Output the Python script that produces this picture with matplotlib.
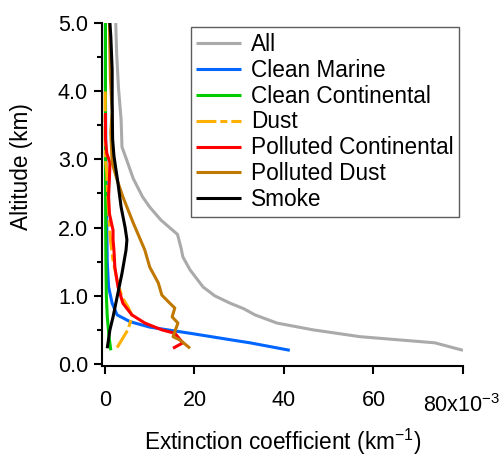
import matplotlib
matplotlib.use('Agg')
import matplotlib.pyplot as plt
from matplotlib.ticker import MultipleLocator, FixedLocator

plt.rcParams['font.family'] = ['Liberation Sans', 'DejaVu Sans']
plt.rcParams['mathtext.default'] = 'regular'

# extinction profiles (x1e-3 km^-1) vs altitude (km)
alt_all = [0.20, 0.31, 0.40, 0.50, 0.60, 0.72, 0.81, 0.89, 1.00, 1.13, 1.38, 1.57,
           1.70, 1.90, 2.11, 2.30, 2.45, 2.72, 3.00, 3.18, 3.58, 4.06, 4.56, 5.00]
ext_all = [80.0, 73.7, 57.0, 46.5, 38.4, 33.5, 31.0, 28.0, 24.5, 21.9, 19.0, 17.4,
           17.0, 16.2, 12.5, 10.0, 8.4, 6.3, 4.8, 3.8, 3.6, 3.0, 2.6, 2.4]

alt_cm = [0.20, 0.31, 0.35, 0.45, 0.54, 0.62, 0.72, 0.89, 1.13, 1.50, 2.00, 2.50, 3.00, 4.00, 5.00]
ext_cm = [41.3, 32.4, 28.5, 19.0, 10.0, 5.6, 2.7, 1.6, 0.8, 0.5, 0.4, 0.3, 0.2, 0.1, 0.1]

alt_cc = [0.20, 0.40, 0.70, 1.00, 1.50, 2.00, 3.00, 4.00, 5.00]
ext_cc = [1.3, 0.9, 0.5, 0.3, 0.2, 0.15, 0.1, 0.1, 0.1]

alt_du = [0.24, 0.37, 0.50, 0.62, 0.72, 0.84, 0.98, 1.23, 1.52, 1.77, 2.00, 2.50, 2.80, 3.00, 3.50, 4.00]
ext_du = [2.7, 3.9, 5.1, 5.7, 6.0, 5.1, 3.8, 2.7, 1.8, 1.3, 1.0, 0.6, 0.4, 0.1, 0.05, 0.05]

alt_pc = [0.23, 0.31, 0.45, 0.50, 0.60, 0.72, 0.89, 1.13, 1.42, 1.67, 1.82, 1.96,
          2.20, 2.45, 2.74, 2.95, 3.09, 3.30, 3.68]
ext_pc = [15.2, 17.4, 15.6, 12.7, 8.9, 6.0, 4.0, 2.9, 2.2, 2.0, 1.8, 1.8,
          1.0, 0.8, 1.0, 1.1, 0.4, 0.1, 0.1]

alt_pd = [0.23, 0.35, 0.40, 0.60, 0.69, 0.82, 0.89, 1.01, 1.19, 1.42, 1.67, 2.07,
          2.45, 2.70, 2.95, 3.40, 3.70, 4.20, 5.00]
ext_pd = [19.0, 16.8, 15.2, 16.3, 15.0, 15.6, 14.5, 12.7, 11.9, 10.0, 8.9, 6.3,
          4.0, 2.7, 1.6, 1.3, 1.6, 1.2, 1.0]

alt_sm = [0.23, 0.50, 0.69, 0.98, 1.33, 1.67, 1.82, 2.00, 2.30, 2.65, 3.05, 3.30,
          3.83, 4.31, 4.80, 5.00]
ext_sm = [0.5, 1.1, 1.8, 2.7, 3.8, 4.7, 4.9, 4.5, 3.6, 2.9, 2.0, 1.7,
          1.6, 1.6, 1.3, 1.1]

x_ticks = [0, 20, 40, 60, 80]
x_ticklabels = ['0', '20', '40', '60', '']

fig = plt.figure(figsize=(5.02, 4.59), dpi=100)
ax = fig.add_axes([102 / 502, 1 - 366 / 459, 361 / 502, 343 / 459])

lw = 2.2
kw = dict(lw=lw, solid_capstyle='butt', dash_capstyle='butt')
ax.plot(ext_all, alt_all, color='#AAAAAA', label='All', **kw)
ax.plot(ext_cm, alt_cm, color='#0066FF', label='Clean Marine', **kw)
ax.plot(ext_cc, alt_cc, color='#00CC00', label='Clean Continental', **kw)
ax.plot(ext_du, alt_du, color='#FFB000', label='Dust',
        dashes=(6.5, 1.3, 2.3, 1.3), **kw)
ax.plot(ext_pc, alt_pc, color='#FF0000', label='Polluted Continental', **kw)
ax.plot(ext_pd, alt_pd, color='#C07800', label='Polluted Dust', **kw)
ax.plot(ext_sm, alt_sm, color='#000000', label='Smoke', **kw)

ax.set_xlim(-0.67, 80)
ax.set_ylim(-0.03, 5.0)

ax.spines[['top', 'right']].set_visible(False)
for s in ('left', 'bottom'):
    ax.spines[s].set_linewidth(1.5)

fs_tick = 15.5
fs_text = 16.3

ax.xaxis.set_major_locator(FixedLocator(x_ticks))
ax.set_xticklabels(x_ticklabels)
ax.yaxis.set_major_locator(MultipleLocator(1.0))
ax.yaxis.set_minor_locator(MultipleLocator(0.5))
ax.yaxis.set_major_formatter(plt.FormatStrFormatter('%.1f'))
ax.tick_params(axis='both', which='major', direction='out', length=6, width=1.5,
               labelsize=fs_tick)
ax.tick_params(axis='y', which='minor', direction='out', length=3.5, width=1.5)
ax.tick_params(axis='y', pad=4)
ax.tick_params(axis='x', pad=11)

# exponent label sits under the last x tick
ax.text(71.0, -0.115, '80x10$^{-3}$', transform=ax.get_xaxis_transform(),
        ha='left', va='center', fontsize=fs_tick)

ax.set_xlabel('Extinction coefficient (km$^{-1}$)', fontsize=fs_text, va='center')
ax.xaxis.set_label_coords(0.5, -0.222)
ax.set_ylabel('Altitude (km)', fontsize=fs_text, va='bottom')
ax.yaxis.set_label_coords(-0.19, 0.58)

leg = ax.legend(loc='upper right', bbox_to_anchor=(459 / 502, 1 - 27 / 459),
                bbox_transform=fig.transFigure, borderaxespad=0, fontsize=fs_text,
                frameon=True, fancybox=False, handlelength=1.95, handletextpad=0.45,
                labelspacing=0.13, borderpad=0.25)
leg.get_frame().set_edgecolor('#333333')
leg.get_frame().set_linewidth(1.0)

fig.savefig('out.png', dpi=100)
